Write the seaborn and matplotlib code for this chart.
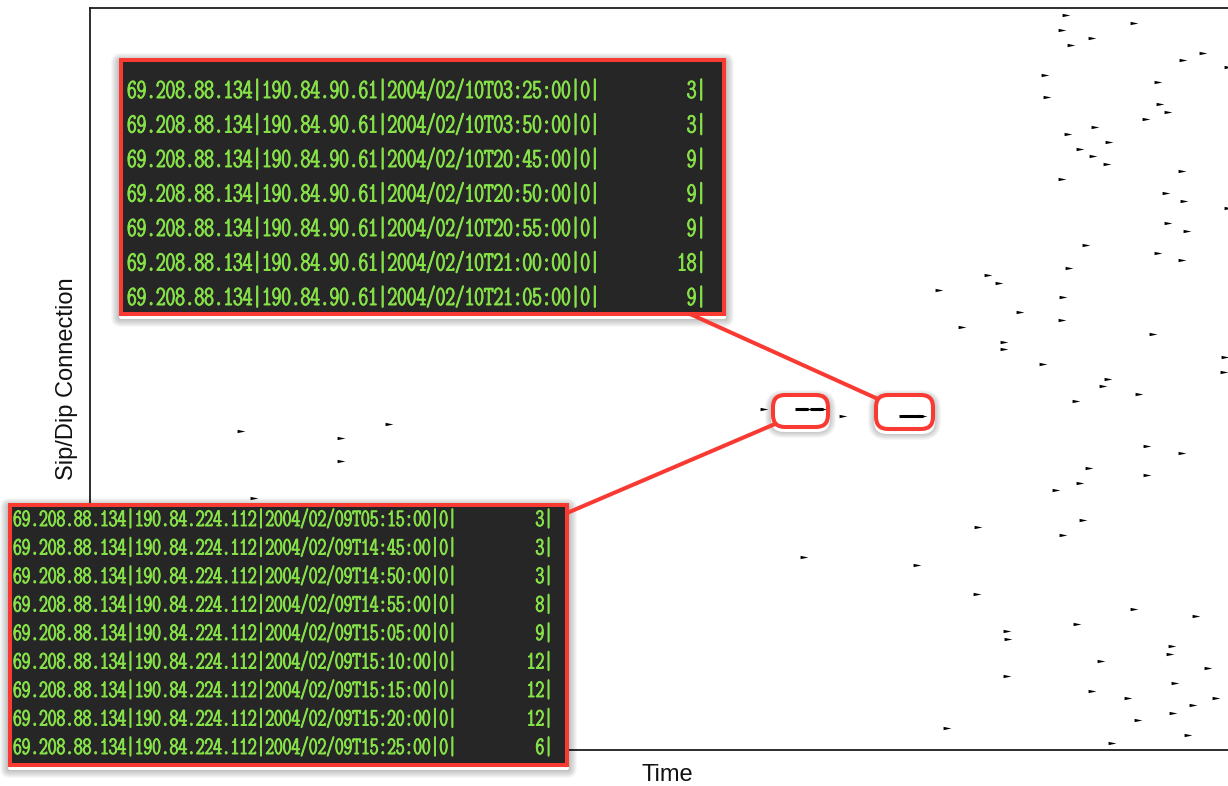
import matplotlib
matplotlib.use("Agg")
import matplotlib.pyplot as plt
import matplotlib.patheffects as pe
import numpy as np
import pandas as pd
import seaborn as sns
from matplotlib.path import Path
from matplotlib.patches import FancyBboxPatch, PathPatch
from matplotlib.lines import Line2D
from matplotlib.transforms import Affine2D
from matplotlib import font_manager as fm

# ---------------------------------------------------------------------------
# Connection records: one row per src/dst pair, time in hours from the start
# ---------------------------------------------------------------------------
conn_row = [0, 1, 2, 3, 4, 5, 6, 7, 8, 9, 11, 12, 13, 14, 15, 16, 17, 18, 19,
            20, 21, 22, 24, 25, 26, 28, 29, 31, 32, 33, 34, 35, 36, 37, 38,
            40, 41, 42, 43, 44, 45, 46, 47, 48, 49, 50, 51, 52, 53, 54, 55,
            56, 57, 58, 59, 60, 61, 62, 63, 64, 65, 68, 69, 70, 73, 74, 78,
            80, 81, 82, 83, 84, 85, 86, 87, 88, 89, 90, 91, 92, 92, 93, 94,
            95, 96, 97, 98]
conn_hour = [195.2, 208.8, 194.4, 200.4, 196.2, 222.6, 218.6, 227.6, 191.0,
             213.6, 191.4, 214.0, 215.6, 211.2, 201.0, 195.6, 203.8, 198.0,
             200.6, 203.4, 218.4, 194.4, 215.2, 218.8, 227.6, 215.6, 219.4,
             199.2, 213.6, 218.4, 195.8, 179.6, 181.8, 169.8, 194.6, 186.0,
             194.4, 174.4, 212.6, 182.8, 182.8, 227.0, 190.6, 226.8, 203.6,
             202.6, 209.8, 197.2, 134.8, 150.6, 59.8, 30.2, 50.2, 211.4,
             218.4, 50.2, 199.8, 211.4, 198.0, 193.2, 32.8, 198.6, 177.6,
             194.6, 142.8, 165.4, 177.4, 208.8, 221.2, 197.4, 183.4, 183.6,
             216.4, 216.0, 202.2, 223.6, 183.4, 217.0, 200.4, 207.6, 225.2,
             220.6, 216.6, 209.6, 171.4, 219.6, 204.4]

# Sustained bursts (consecutive 5-minute records merged into one run)
run_row = [53, 53, 54]
run_start = [141.0, 144.0, 161.8]
run_end = [143.6, 146.6, 166.6]

# Flow listings shown in the two terminal call-outs
src_ip = "69.208.88.134"
dst_a = "190.84.90.61"
times_a = ["2004/02/10T03:25:00", "2004/02/10T03:50:00", "2004/02/10T20:45:00",
           "2004/02/10T20:50:00", "2004/02/10T20:55:00", "2004/02/10T21:00:00",
           "2004/02/10T21:05:00"]
counts_a = [3, 3, 9, 9, 9, 18, 9]

dst_b = "190.84.224.112"
times_b = ["2004/02/09T05:15:00", "2004/02/09T14:45:00", "2004/02/09T14:50:00",
           "2004/02/09T14:55:00", "2004/02/09T15:05:00", "2004/02/09T15:10:00",
           "2004/02/09T15:15:00", "2004/02/09T15:20:00", "2004/02/09T15:25:00"]
counts_b = [3, 3, 3, 8, 9, 12, 12, 12, 6]

# ---------------------------------------------------------------------------
sns.set_style("white")
plt.rcParams["font.family"] = ["Liberation Sans", "DejaVu Sans"]


def _weight(w):
    if isinstance(w, (int, float)):
        return float(w)
    return float(fm.weight_dict.get(str(w).lower(), 400))


def pick_terminal_font():
    """Narrow face for the terminal listings (monospaced if possible)."""
    narrow = ("ultra-condensed", "extra-condensed", "condensed", "semi-condensed")
    found = []
    for f in fm.fontManager.ttflist:
        st = str(f.stretch).lower()
        name = f.name.lower()
        if st in narrow and f.style == "normal":
            rank = (0 if "mono" in name else 1,
                    1 if "serif" in name else 0,
                    narrow.index(st),
                    abs(_weight(f.weight) - 560))
            found.append((rank, f.fname))
    if found:
        found.sort()
        return fm.FontProperties(fname=found[0][1])
    return fm.FontProperties(family="Liberation Sans")


TERM_FONT = pick_terminal_font()

RED = "#f93a33"
GREEN = "#86e248"
TERM_BG = "#262626"
# slightly heavier glyph strokes for the terminal text
TERM_FX = [pe.withStroke(linewidth=0.7, foreground=GREEN)]

W, H = 1228, 786
fig = plt.figure(figsize=(W / 100, H / 100), dpi=100)
fig.patch.set_facecolor("white")
# pixel coordinates measured from the top-left corner
px = Affine2D().scale(1 / W, -1 / H).translate(0, 1) + fig.transFigure


def frac(x0, y0, x1, y1):
    return [x0 / W, 1 - y1 / H, (x1 - x0) / W, (y1 - y0) / H]


# ---------------------------------------------------------------------------
# Main plot
# ---------------------------------------------------------------------------
ax = fig.add_axes(frac(90, 8, 1244, 750), zorder=0)
df = pd.DataFrame({"hour": conn_hour, "row": conn_row})
wedge = Path([(-1, 0.42), (1, 0), (-1, -0.42), (-1, 0.42)],
             [Path.MOVETO, Path.LINETO, Path.LINETO, Path.CLOSEPOLY])
sns.scatterplot(data=df, x="hour", y="row", marker=wedge, s=32, color="black",
                linewidth=0, ax=ax, legend=False)
ax.hlines(run_row, run_start, run_end, color="black", lw=2.2)
sns.scatterplot(x=run_end, y=run_row, marker=wedge, s=34, color="black",
                linewidth=0, ax=ax, legend=False)

ax.set_xlim(0, 230.8)
ax.set_ylim(99, -1)
ax.set_xticks([])
ax.set_yticks([])
for side, sp in ax.spines.items():
    sp.set_color("#1c1c1c")
    sp.set_linewidth(1.3)
ax.set_xlabel("Time", fontsize=17, labelpad=10, color="#111111")
ax.set_ylabel("Sip/Dip Connection", fontsize=17, labelpad=9, color="#111111")


# ---------------------------------------------------------------------------
# Call-out decorations
# ---------------------------------------------------------------------------
def rounded_poly(x0, y0, x1, y1, r):
    box = FancyBboxPatch((x0, y0), x1 - x0, y1 - y0,
                         boxstyle=f"round,pad=0,rounding_size={max(r, 0.01)}")
    return box.get_path().to_polygons()[0]


def halo(x0, y0, x1, y1, rad, spread=7, dy=3, alpha=0.035):
    """Soft drop shadow drawn only outside the given rounded box."""
    inner = rounded_poly(x0, y0 + dy, x1, y1 + dy, rad)[::-1]
    for k in range(1, spread + 1):
        outer = rounded_poly(x0 - k, y0 - k + dy, x1 + k, y1 + k + dy, rad + k)
        ring = Path.make_compound_path(Path(outer, closed=True),
                                       Path(inner, closed=True))
        fig.add_artist(PathPatch(ring, transform=px, fc="black", ec="none",
                                 alpha=alpha, zorder=1))


def highlight(x0, y0, x1, y1):
    halo(x0 - 2, y0 - 2, x1 + 2, y1 + 2, 13, spread=6, dy=3, alpha=0.035)
    fig.add_artist(FancyBboxPatch(
        (x0, y0), x1 - x0, y1 - y0, boxstyle="round,pad=0,rounding_size=12",
        transform=px, fc="none", ec=RED, lw=2.9, zorder=2))


def connector(x0, y0, x1, y1):
    fig.add_artist(Line2D([x0, x1], [y0, y1], transform=px, color=RED,
                          lw=2.9, solid_capstyle="butt", zorder=2))


def terminal(box, dst, times, counts, base0, step, left, main_right, count_right):
    x0, y0, x1, y1 = box
    halo(x0 - 2, y0 - 2, x1 + 2, y1 + 2, 2, spread=8, dy=3, alpha=0.03)
    tax = fig.add_axes(frac(x0, y0, x1, y1), zorder=3)
    tax.set_facecolor(TERM_BG)
    tax.set_xticks([])
    tax.set_yticks([])
    for sp in tax.spines.values():
        sp.set_color(RED)
        sp.set_linewidth(2.9)
    lines = [f"{src_ip}|{dst}|{t}|0|" for t in times]
    # size the listing so that it fills the terminal width
    renderer = fig.canvas.get_renderer()
    probe = tax.text(0, 0, lines[0], fontproperties=TERM_FONT, fontsize=20)
    w = probe.get_window_extent(renderer).width * 100 / fig.dpi
    probe.remove()
    fs = 20 * (main_right - left) / w
    for i, (s, n) in enumerate(zip(lines, counts)):
        yb = base0 + i * step
        tax.text(left, yb, s, transform=px, fontproperties=TERM_FONT,
                 fontsize=fs, color=GREEN, ha="left", va="baseline",
                 clip_on=True, path_effects=TERM_FX)
        tax.text(count_right, yb, f"{n}|", transform=px,
                 fontproperties=TERM_FONT, fontsize=fs, color=GREEN,
                 ha="right", va="baseline", clip_on=True,
                 path_effects=TERM_FX)


highlight(773, 395, 828, 427)
highlight(876, 395, 933, 429)
connector(690, 314, 878, 399)
connector(567, 513, 775, 424)

terminal((121, 60, 724, 314), dst_a, times_a, counts_a,
         base0=98, step=34.5, left=127, main_right=601, count_right=706)
terminal((10, 505, 567, 765), dst_b, times_b, counts_b,
         base0=526, step=28.5, left=13, main_right=458, count_right=553)

fig.savefig("out.png", dpi=100, facecolor="white")
